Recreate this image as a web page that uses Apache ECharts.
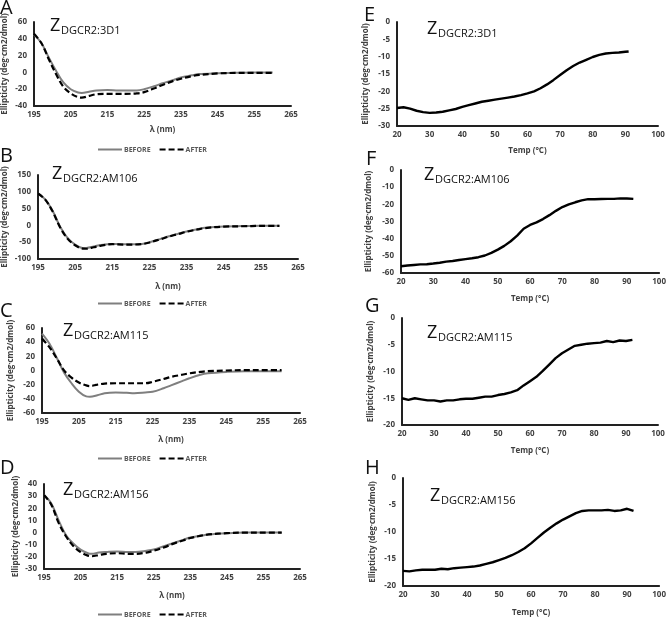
<!DOCTYPE html>
<html><head><meta charset="utf-8">
<script src="https://cdn.jsdelivr.net/npm/echarts@6/dist/echarts.min.js"></script>
<style>html,body{margin:0;padding:0;background:#fff}#c{width:669px;height:618px}</style>
</head><body><div id="c"></div>
<script>
// CD spectra wavelengths (nm)
var wl = [195,197,199,201,203,205,207,208,210,212,215,218,220,223,225,228,230,233,235,238,240,245,250,255,260];
var A_before = [45,35,18,2,-12,-20,-24,-24.5,-23,-21.5,-21,-21.5,-21.5,-21.5,-20,-16,-13,-9,-6,-3.5,-2,-1,-0.3,0,0];
var A_after  = [46,35,16,-2,-17,-25,-29.5,-30,-28,-26,-25.5,-25.5,-25.5,-25,-23.5,-18.5,-15,-10,-7.5,-4.5,-3,-1.2,-0.6,-0.5,-0.5];
var B_before = [95,77,42,-5,-38,-57,-67,-67,-63,-58,-55,-56,-56,-55,-50,-40,-33,-24,-18,-11,-7,-3,-2,-1,-1];
var B_after  = [95,76,40,-7,-40,-59,-69,-69.5,-65,-60,-56,-57,-57,-55.5,-51,-41,-34,-25,-19,-12,-8,-3.5,-2.5,-1.5,-1.5];
var C_before = [52,38,18,-3,-18,-30,-36.5,-37,-35,-32,-31,-31.5,-32,-31,-30,-25,-21,-15,-11,-6,-4,-2,-1,-1,-1];
var C_after  = [45,33,17,0,-10,-17,-21,-22,-20,-18.5,-18,-18,-18,-18,-16,-12,-9,-6,-4,-2,-1,0,0.5,0.5,0.5];
var D_before = [31,24,10,-2,-9,-14,-17,-17.5,-16.5,-16,-15.5,-16,-16,-15,-14,-11,-9,-6,-4,-2.5,-1.5,-0.5,0,0,0];
var D_after  = [31,23,8,-3,-11,-16,-19,-19.5,-18.5,-17.5,-17,-17.5,-17.5,-16.5,-15,-12,-9.5,-6.5,-4.5,-2.5,-1.5,-0.5,0,0,0];

// Thermal melts (temperature in C)
var tE = [20,22,24,26,28,30,32,34,36,38,40,42,44,46,48,50,52,54,56,58,60,62,64,66,68,70,72,74,76,78,80,82,84,86,88,90,91];
var E_vals = [-24.8,-24.6,-25.0,-25.6,-26.0,-26.2,-26.1,-25.9,-25.5,-25.1,-24.5,-24.0,-23.5,-23.0,-22.7,-22.4,-22.1,-21.8,-21.5,-21.1,-20.6,-20.0,-19.1,-18.0,-16.7,-15.3,-13.9,-12.7,-11.7,-10.9,-10.1,-9.5,-9.1,-8.9,-8.8,-8.6,-8.5];
var tFGH = [20,22,24,26,28,30,32,34,36,38,40,42,44,46,48,50,52,54,56,58,60,62,64,66,68,70,72,74,76,78,80,82,84,86,88,90,92];
var F_vals = [-56.1,-55.6,-55.3,-55.0,-54.9,-54.5,-54.0,-53.4,-53.0,-52.4,-51.9,-51.4,-50.8,-49.8,-48.3,-46.4,-44.2,-41.5,-38.2,-34.2,-32.0,-30.5,-28.6,-26.3,-23.8,-21.6,-20.0,-18.8,-17.7,-17.0,-17.0,-16.9,-16.8,-16.8,-16.5,-16.6,-16.8];
var G_vals = [-15.0,-15.3,-15.0,-15.2,-15.4,-15.4,-15.6,-15.4,-15.4,-15.2,-15.1,-15.1,-14.9,-14.7,-14.7,-14.4,-14.2,-13.9,-13.5,-12.6,-11.8,-11.0,-9.9,-8.7,-7.5,-6.6,-5.9,-5.2,-5.0,-4.8,-4.7,-4.6,-4.3,-4.5,-4.2,-4.3,-4.1];
var H_vals = [-17.2,-17.3,-17.1,-17.0,-17.0,-17.0,-16.8,-16.9,-16.7,-16.6,-16.5,-16.4,-16.2,-15.9,-15.6,-15.2,-14.8,-14.3,-13.7,-13.0,-12.1,-11.1,-10.1,-9.2,-8.4,-7.7,-7.1,-6.5,-6.1,-6.0,-6.0,-6.0,-5.9,-6.1,-6.0,-5.7,-6.1];

var panelLetters = ['A','B','C','D','E','F','G','H'];
var constructs = ['3D1','AM106','AM115','AM156','3D1','AM106','AM115','AM156'];
var yTitle = 'Ellipticity (deg\u00b7cm2/dmol)';
var cdXTitle = '\u03bb (nm)';
var tmXTitle = 'Temp (\u00b0C)';

function pairs(xs, ys){ return xs.map(function(x,i){ return [x, ys[i]]; }); }

var FONT = '"Open Sans", "Liberation Sans", sans-serif';
// layout: [left, top, width, height, ymin, ymax, yint, nameGapY, nameGapX]
var L = [
  [32, 22, 259, 84, -40, 60, 20, 25, 20],
  [38, 175, 260, 84, -100, 150, 50, 29, 24],
  [42, 328, 258, 85, -60, 60, 20, 27, 23],
  [44, 484, 256, 85, -30, 40, 10, 24, 23],
  [397, 22, 261, 104, -30, 0, 5, 27, 21],
  [401, 170, 259, 103, -60, 0, 10, 28, 22],
  [402, 318, 256, 107, -20, 0, 5, 27, 22],
  [403, 478, 257, 109, -20, 0, 5, 26, 23]
];
var grids=[], xAxes=[], yAxes=[], series=[], graphics=[];
var lblStyle = {fontFamily: FONT, fontSize: 8, fontWeight: 'bold', color: '#404040'};
L.forEach(function(p, i){
  var cd = i < 4;
  grids.push({left: p[0], top: p[1], width: p[2], height: p[3]});
  xAxes.push({type:'value', gridIndex:i, min: cd?195:20, max: cd?265:100, interval:10,
    name: cd?cdXTitle:tmXTitle, nameLocation:'middle', nameGap:p[8],
    nameTextStyle:{fontFamily:FONT,fontSize:8,fontWeight:'bold',color:'#404040'},
    axisLine:{onZero:false, lineStyle:{color:'#222', width:2}}, axisTick:{show:false},
    splitLine:{show:false}, axisLabel: Object.assign({margin:5}, lblStyle)});
  yAxes.push({type:'value', gridIndex:i, min:p[4], max:p[5], interval:p[6],
    name: yTitle, nameLocation:'middle', nameGap:p[7], nameRotate:90,
    nameTextStyle:{fontFamily:FONT,fontSize:8,fontWeight:'bold',color:'#404040'},
    axisLine:{show:true, onZero:false, lineStyle:{color:'#222', width:2}}, axisTick:{show:false},
    splitLine:{show:false}, axisLabel: Object.assign({margin:7}, lblStyle)});
});
var cdSets = [[A_before,A_after],[B_before,B_after],[C_before,C_after],[D_before,D_after]];
cdSets.forEach(function(s,i){
  series.push({name:'BEFORE', type:'line', xAxisIndex:i, yAxisIndex:i, data:pairs(wl,s[0]),
    showSymbol:false, symbol:'none', smooth:0.35, lineStyle:{color:'#7f7f7f', width:2}, itemStyle:{color:'#7f7f7f'}, z:2});
  series.push({name:'AFTER', type:'line', xAxisIndex:i, yAxisIndex:i, data:pairs(wl,s[1]),
    showSymbol:false, symbol:'none', smooth:0.35, lineStyle:{color:'#000', width:2.2, type:[6,3]}, itemStyle:{color:'#000'}, z:3});
});
var tmSets = [[tE,E_vals],[tFGH,F_vals],[tFGH,G_vals],[tFGH,H_vals]];
tmSets.forEach(function(s,k){
  var i = k+4;
  series.push({name:'melt'+panelLetters[i], type:'line', xAxisIndex:i, yAxisIndex:i, data:pairs(s[0],s[1]),
    showSymbol:false, symbol:'none', lineStyle:{color:'#000', width:2.4}, itemStyle:{color:'#000'}});
});

// panel letters [x, y]
var letterPos = [[0,-2],[0,146],[0,301],[0,458],[364,5],[366,149],[365,296],[365,458]];
// Z title positions [x of Z, top of Z]
var zPos = [[50,17],[52,165],[63,322],[63,481],[427,20],[424,166],[427,324],[430,487]];
letterPos.forEach(function(p,i){
  graphics.push({type:'text', left:p[0], top:p[1], style:{text:panelLetters[i], font:'20px '+FONT, fill:'#111'}});
  graphics.push({type:'text', left:zPos[i][0], top:zPos[i][1], style:{text:'Z', font:'18px '+FONT, fill:'#111'}});
  graphics.push({type:'text', left:zPos[i][0]+11, top:zPos[i][1]+8, style:{text:'DGCR2:'+constructs[i], font:'11px '+FONT, fill:'#111'}});
});

var iconSolid = 'path://M0,0H24V2H0Z';
var iconDash = 'path://M0,0H6V2H0Z M9,0H15V2H9Z M18,0H24V2H18Z';
var legendTops = [146, 300, 455, 611];
var legends = legendTops.map(function(t){
  return {data:[{name:'BEFORE', icon:iconSolid},{name:'AFTER', icon:iconDash}], left:98, top:t, padding:0,
    itemWidth:24, itemHeight:8, itemGap:9,
    textStyle:{fontFamily:FONT, fontSize:7, fontWeight:'bold', color:'#595959', padding:[0,0,0,-3]}, selectedMode:false};
});

var chart = echarts.init(document.getElementById('c'));
chart.setOption({animation:false, backgroundColor:'#fff', grid:grids, xAxis:xAxes, yAxis:yAxes,
  series:series, legend:legends, graphic:graphics});
</script></body></html>
